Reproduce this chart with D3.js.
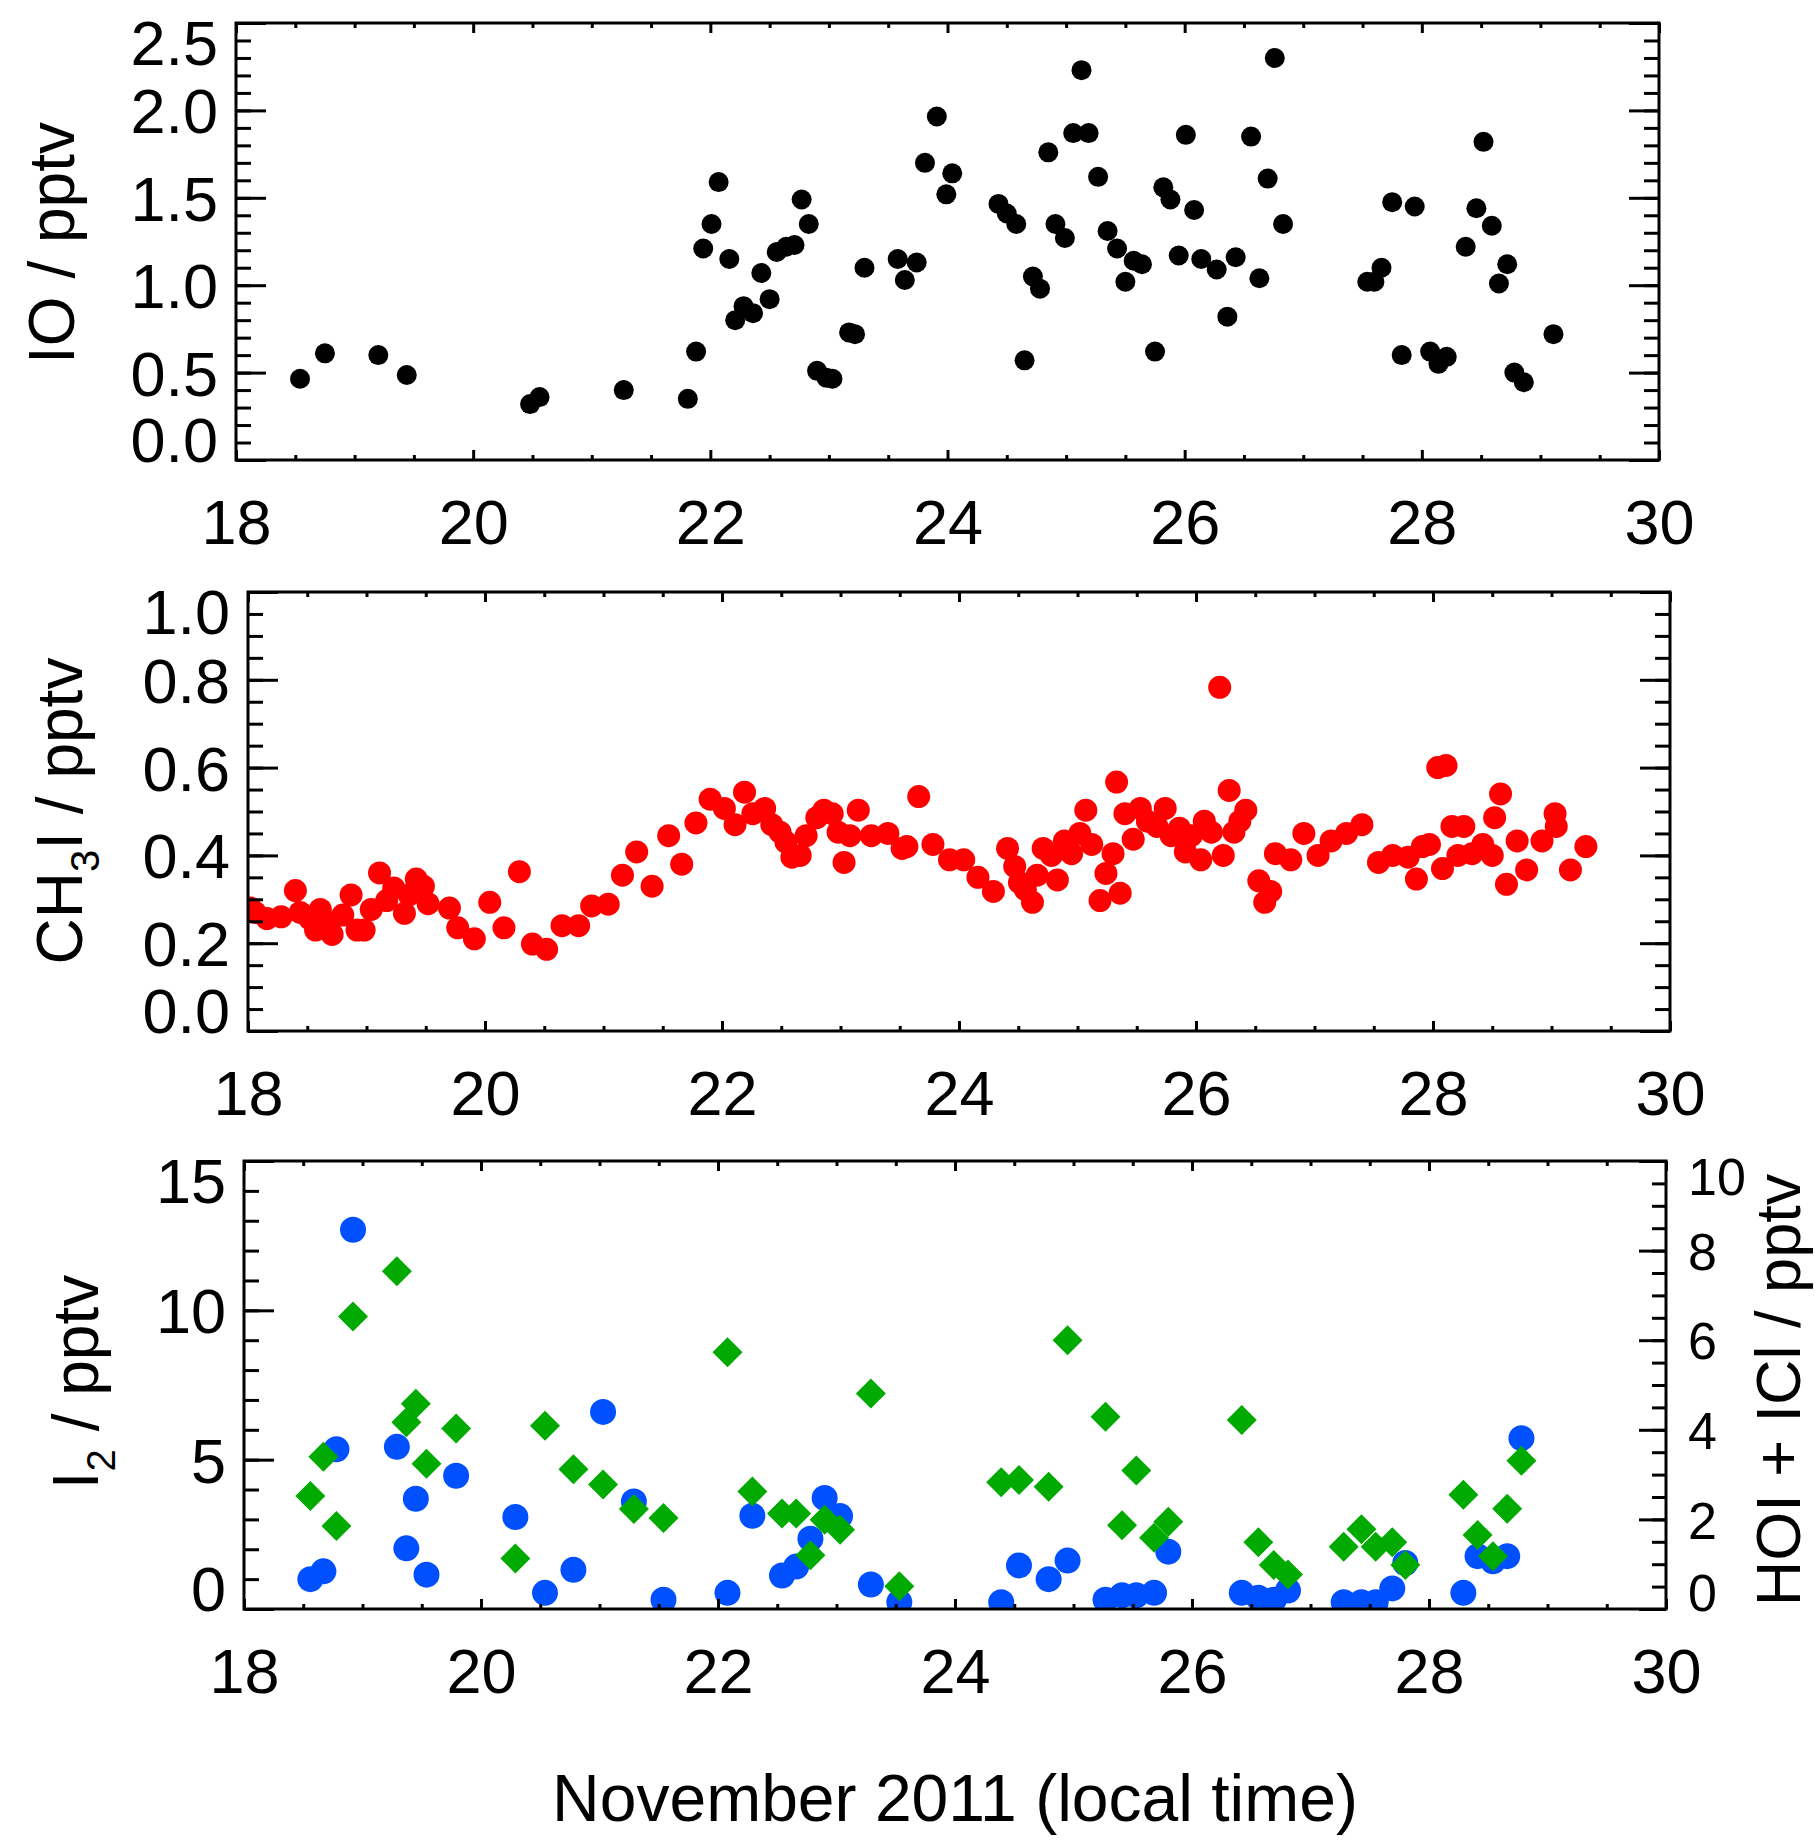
<!DOCTYPE html>
<html>
<head>
<meta charset="utf-8">
<script src="https://cdn.jsdelivr.net/npm/d3@7"></script>
<style>
  body { margin: 0; background: #fff; }
  svg { display: block; }
</style>
</head>
<body>
<svg id="chart" width="1815" height="1843"></svg>
<script>
// ---- data (day of November 2011, local time) ----
var xTicks = [18, 20, 22, 24, 26, 28, 30];

var ioTicks = [0, 0.5, 1.0, 1.5, 2.0, 2.5];
var ioDay = [18.54, 18.75, 19.20, 19.44, 20.48, 20.56, 21.27, 21.81, 21.88, 21.94, 22.01, 22.07,
  22.16, 22.21, 22.28, 22.36, 22.43, 22.50, 22.56, 22.64, 22.71, 22.77, 22.83, 22.90, 22.98, 23.03,
  23.17, 23.22, 23.30, 23.58, 23.64, 23.74, 23.81, 23.91, 23.99, 24.04, 24.43, 24.50, 24.58, 24.65,
  24.72, 24.78, 24.85, 24.91, 24.99, 25.06, 25.13, 25.19, 25.27, 25.35, 25.43, 25.50, 25.57, 25.64,
  25.75, 25.82, 25.88, 25.95, 26.01, 26.08, 26.14, 26.27, 26.36, 26.43, 26.56, 26.63, 26.70, 26.76,
  26.83, 27.54, 27.60, 27.66, 27.75, 27.83, 27.94, 28.07, 28.14, 28.21, 28.37, 28.46, 28.52, 28.59,
  28.65, 28.72, 28.78, 28.86, 29.11];
var ioVal = [0.465, 0.61, 0.60, 0.486, 0.32, 0.36, 0.40, 0.35, 0.62, 1.21, 1.35, 1.59,
  1.15, 0.80, 0.88, 0.84, 1.07, 0.92, 1.19, 1.22, 1.23, 1.49, 1.35, 0.51, 0.47, 0.465,
  0.73, 0.72, 1.10, 1.15, 1.03, 1.13, 1.70, 1.965, 1.52, 1.64, 1.465, 1.41, 1.35, 0.57,
  1.05, 0.98, 1.76, 1.35, 1.27, 1.87, 2.23, 1.87, 1.62, 1.31, 1.21, 1.02, 1.14, 1.12,
  0.62, 1.56, 1.49, 1.17, 1.86, 1.43, 1.15, 1.09, 0.82, 1.16, 1.85, 1.04, 1.61, 2.30,
  1.35, 1.02, 1.02, 1.10, 1.475, 0.60, 1.45, 0.62, 0.55, 0.59, 1.22, 1.44, 1.82, 1.34,
  1.01, 1.12, 0.50, 0.445, 0.72];

var ch3iTicks = [0, 0.2, 0.4, 0.6, 0.8, 1.0];
var ch3iDay = [18.02, 18.06, 18.16, 18.28, 18.40, 18.44, 18.52, 18.57, 18.61, 18.67, 18.71, 18.80,
  18.87, 18.92, 18.98, 19.04, 19.11, 19.17, 19.23, 19.32, 19.36, 19.42, 19.48, 19.52, 19.70, 19.77,
  19.91, 20.04, 20.16, 20.29, 20.40, 20.52, 20.65, 20.79, 20.90, 21.04, 21.16, 21.28, 21.41, 21.55,
  21.66, 21.78, 21.90, 22.02, 22.11, 22.19, 22.26, 22.36, 22.42, 22.49, 22.54, 22.59, 22.66, 22.71,
  22.80, 22.86, 22.93, 22.98, 23.03, 23.08, 23.15, 23.26, 23.40, 23.52, 23.56, 23.66, 23.78, 23.92,
  24.04, 24.16, 24.29, 24.41, 24.47, 24.51, 24.56, 24.62, 24.66, 24.71, 24.78, 24.83, 24.89, 24.95,
  25.02, 25.07, 25.12, 25.19, 25.24, 25.30, 25.33, 25.36, 25.40, 25.47, 25.53, 25.59, 25.67, 25.74,
  25.79, 25.86, 25.91, 25.96, 26.04, 26.07, 26.13, 26.20, 26.23, 26.28, 26.32, 26.37, 26.42, 26.53,
  26.58, 26.63, 26.67, 26.80, 26.91, 27.03, 27.14, 27.27, 27.40, 27.54, 27.66, 27.79, 27.86, 27.91,
  27.97, 28.04, 28.11, 28.08, 28.16, 28.21, 28.26, 28.33, 28.42, 28.50, 28.52, 28.57, 28.62, 28.71,
  28.79, 28.92, 29.03, 29.04, 29.16, 29.29];
var ch3iVal = [0.28, 0.27, 0.256, 0.26, 0.32, 0.27, 0.256, 0.23, 0.277, 0.248, 0.22, 0.264,
  0.31, 0.23, 0.23, 0.277, 0.36, 0.297, 0.326, 0.268, 0.31, 0.346, 0.33, 0.29, 0.28, 0.235,
  0.21, 0.293, 0.235, 0.363, 0.198, 0.186, 0.24, 0.24, 0.285, 0.289, 0.355, 0.408, 0.33, 0.445,
  0.38, 0.474, 0.528, 0.507, 0.47, 0.544, 0.495, 0.507, 0.47, 0.453, 0.43, 0.396, 0.40, 0.445,
  0.486, 0.503, 0.495, 0.453, 0.384, 0.445, 0.503, 0.445, 0.45, 0.416, 0.42, 0.534, 0.425, 0.39,
  0.39, 0.35, 0.318, 0.416, 0.375, 0.338, 0.322, 0.293, 0.355, 0.416, 0.40, 0.344, 0.433, 0.404,
  0.45, 0.503, 0.425, 0.297, 0.359, 0.404, 0.567, 0.314, 0.495, 0.437, 0.507, 0.478, 0.466, 0.507,
  0.445, 0.462, 0.408, 0.445, 0.39, 0.478, 0.453, 0.783, 0.40, 0.548, 0.453, 0.478, 0.503, 0.342,
  0.293, 0.318, 0.404, 0.39, 0.45, 0.40, 0.433, 0.45, 0.47, 0.384, 0.40, 0.396, 0.346, 0.42,
  0.425, 0.60, 0.605, 0.37, 0.466, 0.40, 0.466, 0.404, 0.425, 0.40, 0.486, 0.54, 0.334, 0.433,
  0.367, 0.433, 0.495, 0.466, 0.367, 0.42];

// I2 and HOI + ICl share the same sampling times
var i2Ticks = [0, 5, 10, 15];
var hoiTicks = [0, 2, 4, 6, 8, 10];
var halDay = [18.56, 18.67, 18.78, 18.92, 19.29, 19.37, 19.45, 19.54, 19.79, 20.29, 20.54, 20.78,
  21.03, 21.29, 21.54, 22.08, 22.29, 22.54, 22.66, 22.78, 22.90, 23.03, 23.29, 23.53,
  24.39, 24.54, 24.79, 24.95, 25.27, 25.41, 25.53, 25.68, 25.80, 26.42, 26.56, 26.69, 26.81,
  27.28, 27.43, 27.55, 27.69, 27.80, 28.29, 28.41, 28.54, 28.66, 28.78];
var i2Val = [1.0, 1.26, 5.35, 12.7, 5.43, 2.03, 3.69, 1.15, 4.46, 3.08, 0.54, 1.31,
  6.6, 3.6, 0.31, 0.54, 3.12, 1.12, 1.42, 2.35, 3.72, 3.11, 0.82, 0.23,
  0.23, 1.46, 1.0, 1.62, 0.31, 0.46, 0.46, 0.54, 1.92, 0.54, 0.38, 0.31, 0.62,
  0.23, 0.23, 0.23, 0.69, 1.54, 0.54, 1.77, 1.6, 1.77, 5.72];
var hoiVal = [2.52, 3.40, 1.85, 6.53, 7.54, 4.17, 4.58, 3.24, 4.03, 1.13, 4.09, 3.12,
  2.78, 2.23, 2.03, 5.73, 2.62, 2.13, 2.13, 1.20, 1.99, 1.77, 4.81, 0.51,
  2.83, 2.88, 2.73, 6.0, 4.29, 1.87, 3.09, 1.59, 1.95, 4.22, 1.49, 0.98, 0.77,
  1.39, 1.78, 1.39, 1.49, 0.98, 2.55, 1.65, 1.18, 2.24, 3.31];

// ---- drawing ----
var FONT = "'Liberation Sans', Arial, Helvetica, sans-serif";
var svg = d3.select("#chart").attr("font-family", FONT);
var xMinor = d3.range(18, 30.001, 0.5).filter(function(d) { return d % 2 !== 0; });

function styleAxis(sel, fontSize) {
  sel.select(".domain").remove();
  sel.attr("font-family", FONT).attr("font-size", fontSize);
  sel.selectAll(".tick line").attr("stroke", "#000").attr("stroke-width", 3);
  sel.selectAll(".tick text").attr("fill", "#000");
}

// y labels are kept inside the axis box at the ends, like the original plot
function clampLabels(sel, scale, h, fontSize) {
  var cap = 0.716 * fontSize;
  sel.selectAll(".tick text")
    .attr("dy", null)
    .attr("y", function(d) {
      var ty = scale(d);
      var base = ty + cap / 2;
      if (base > h + 1) base = h + 1;
      if (base - cap < -4) base = cap - 4;
      return base - ty;
    });
}

function addPanel(p) {
  var w = p.right - p.left, h = p.bottom - p.top;
  var g = svg.append("g").attr("transform", "translate(" + p.left + "," + p.top + ")");
  var x = d3.scaleLinear().domain([18, 30]).range([0, w]);
  var y = d3.scaleLinear().domain(p.yDomain).range([h, 0]);

  var clipId = "clip" + p.id;
  g.append("clipPath").attr("id", clipId)
    .append("rect").attr("width", w).attr("height", h);
  var plot = g.append("g").attr("clip-path", "url(#" + clipId + ")");

  // x axes, bottom with labels, top mirrored
  g.append("g").attr("transform", "translate(0," + h + ")")
    .call(d3.axisBottom(x).tickValues(xMinor).tickSize(-5).tickFormat(""))
    .call(styleAxis, 62);
  var xb = g.append("g").attr("transform", "translate(0," + h + ")")
    .call(d3.axisBottom(x).tickValues(xTicks).tickSize(-10).tickFormat(d3.format("d")))
    .call(styleAxis, 63);
  xb.selectAll(".tick text").attr("dy", null).attr("y", 84);
  g.append("g").call(d3.axisTop(x).tickValues(xMinor).tickSize(-5).tickFormat("")).call(styleAxis, 62);
  g.append("g").call(d3.axisTop(x).tickValues(xTicks).tickSize(-10).tickFormat("")).call(styleAxis, 62);

  // left y axis
  g.append("g").call(d3.axisLeft(y).tickValues(p.yMinor).tickSize(-15).tickFormat(""))
    .call(styleAxis, 62);
  var yl = g.append("g")
    .call(d3.axisLeft(y).tickValues(p.yTicks).tickSize(-30).tickPadding(18).tickFormat(p.yFormat))
    .call(styleAxis, 63);
  clampLabels(yl, y, h, 63);

  return { g: g, plot: plot, x: x, y: y, w: w, h: h };
}

function rightMirror(P, ticks, minor) {
  P.g.append("g").attr("transform", "translate(" + P.w + ",0)")
    .call(d3.axisRight(P.y).tickValues(minor).tickSize(-15).tickFormat("")).call(styleAxis, 62);
  P.g.append("g").attr("transform", "translate(" + P.w + ",0)")
    .call(d3.axisRight(P.y).tickValues(ticks).tickSize(-30).tickFormat("")).call(styleAxis, 62);
}

function frame(P) {
  P.g.append("rect").attr("width", P.w).attr("height", P.h)
    .attr("fill", "none").attr("stroke", "#000").attr("stroke-width", 3);
}

function yTitle(x, y, parts, size) {
  var t = svg.append("text")
    .attr("transform", "translate(" + x + "," + y + ") rotate(-90)")
    .attr("text-anchor", "middle").attr("font-size", size || 64).attr("fill", "#000");
  parts.forEach(function(s) {
    if (s.sub) {
      t.append("tspan").text(s.sub).attr("font-size", 40).attr("dy", 17);
    } else {
      t.append("tspan").text(s.text).attr("dy", s.after ? -17 : 0);
    }
  });
}

// panel 1: IO
var P1 = addPanel({ id: 1, left: 236, right: 1659, top: 23, bottom: 460,
  yDomain: [0, 2.5], yTicks: ioTicks, yFormat: d3.format(".1f"),
  yMinor: d3.range(0, 2.501, 0.1) });
rightMirror(P1, ioTicks, d3.range(0, 2.501, 0.1));
P1.plot.selectAll("circle").data(ioDay).enter().append("circle")
  .attr("cx", function(d) { return P1.x(d); })
  .attr("cy", function(d, i) { return P1.y(ioVal[i]); })
  .attr("r", 10).attr("fill", "#000");
frame(P1);
yTitle(74, 243, [{ text: "IO / pptv" }]);

// panel 2: CH3I
var P2 = addPanel({ id: 2, left: 248, right: 1670, top: 592, bottom: 1031,
  yDomain: [0, 1.0], yTicks: ch3iTicks, yFormat: d3.format(".1f"),
  yMinor: d3.range(0, 1.001, 0.05) });
rightMirror(P2, ch3iTicks, d3.range(0, 1.001, 0.05));
P2.plot.selectAll("circle").data(ch3iDay).enter().append("circle")
  .attr("cx", function(d) { return P2.x(d); })
  .attr("cy", function(d, i) { return P2.y(ch3iVal[i]); })
  .attr("r", 11.5).attr("fill", "#ff0000");
frame(P2);
yTitle(82, 811, [{ text: "CH" }, { sub: "3" }, { text: "I / pptv", after: true }]);

// panel 3: I2 (left) and HOI + ICl (right)
var P3 = addPanel({ id: 3, left: 244, right: 1666, top: 1161, bottom: 1609,
  yDomain: [0, 15], yTicks: i2Ticks, yFormat: d3.format("d"),
  yMinor: d3.range(0, 15.001, 1) });
var y2 = d3.scaleLinear().domain([0, 10]).range([P3.h, 0]);
P3.g.append("g").attr("transform", "translate(" + P3.w + ",0)")
  .call(d3.axisRight(y2).tickValues(d3.range(0, 10.001, 0.5)).tickSize(-14).tickFormat(""))
  .call(styleAxis, 52);
var yr = P3.g.append("g").attr("transform", "translate(" + P3.w + ",0)")
  .call(d3.axisRight(y2).tickValues(hoiTicks).tickSize(-27).tickPadding(22).tickFormat(d3.format("d")))
  .call(styleAxis, 52);
clampLabels(yr, y2, P3.h, 52);

P3.plot.selectAll("circle").data(halDay).enter().append("circle")
  .attr("cx", function(d) { return P3.x(d); })
  .attr("cy", function(d, i) { return P3.y(i2Val[i]); })
  .attr("r", 13).attr("fill", "#0050ff");
var diamond = d3.symbol().type(d3.symbolSquare).size(450);
P3.plot.selectAll("path.hoi").data(halDay).enter().append("path")
  .attr("class", "hoi")
  .attr("d", diamond)
  .attr("transform", function(d, i) {
    return "translate(" + P3.x(d) + "," + y2(hoiVal[i]) + ") rotate(45)";
  })
  .attr("fill", "#00aa00");
frame(P3);
yTitle(98, 1382, [{ text: "I" }, { sub: "2" }, { text: " / pptv", after: true }]);
yTitle(1800, 1390, [{ text: "HOI + ICl / pptv" }], 63);

// x title
svg.append("text").attr("x", 955).attr("y", 1821)
  .attr("text-anchor", "middle").attr("font-size", 66).attr("fill", "#000")
  .text("November 2011 (local time)");
</script>
</body>
</html>
